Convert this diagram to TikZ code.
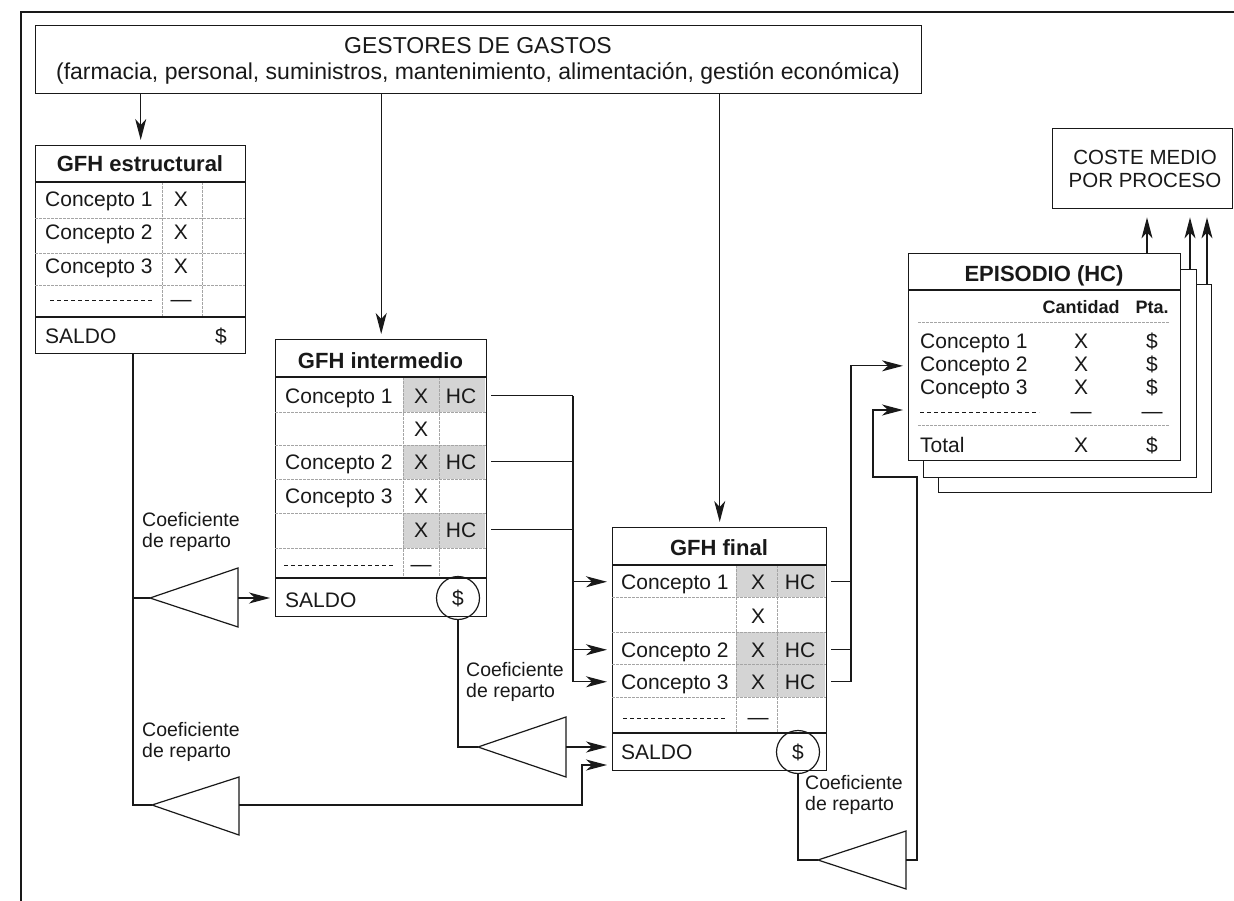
\documentclass[tikz,border=0pt]{standalone}
\usepackage{fontspec}
\setmainfont{Liberation Sans}
\usetikzlibrary{arrows.meta}
\definecolor{ink}{RGB}{25,25,25}
\definecolor{cellshade}{RGB}{212,212,212}
\definecolor{rulegray}{RGB}{165,165,165}
\begin{document}
\begin{tikzpicture}[x=1pt,y=-1pt,
  frameline/.style={draw=ink,line width=2pt},
  tblbox/.style={draw=ink,line width=1.4pt,fill=white,rectangle,inner sep=0pt,anchor=north west},
  solidrule/.style={draw=ink,line width=1.3pt},
  thinrule/.style={draw=rulegray,line width=0.8pt,dash pattern=on 3pt off 1pt},
  conn/.style={draw=ink,line width=1.3pt},
  arrw/.style={conn,-{Stealth[length=21pt,width=11pt,inset=6pt]},shorten >=5pt},
  toptxt/.style={font=\fontsize{23}{27}\selectfont,text=ink,inner sep=0pt},
  txt/.style={font=\fontsize{21}{25}\selectfont,text=ink,inner sep=0pt},
  smalltxt/.style={font=\fontsize{20.5}{24}\selectfont,text=ink,inner sep=0pt},
  hdr/.style={font=\fontsize{22}{26}\selectfont\bfseries,text=ink,inner sep=0pt},
  colhdr/.style={font=\fontsize{18}{20}\selectfont\bfseries,text=ink,inner sep=0pt},
  coeftxt/.style={font=\fontsize{19.5}{21}\selectfont,text=ink,inner sep=0pt,align=left,anchor=base west},
  tribox/.style={draw=ink,line width=1.2pt,fill=white},
  dashrow/.style={draw=ink,line width=1pt,dash pattern=on 4pt off 3pt},
  dollarcirc/.style={circle,draw=ink,line width=1.2pt,minimum size=43pt,inner sep=0pt,font=\fontsize{21}{25}\selectfont,text=ink}
]
\useasboundingbox (0,0) rectangle (1234,901);
\fill[white] (0,0) rectangle (1234,901);

% page frame
\draw[frameline] (1234,12) -- (21,12) -- (21,901);

% ---------- GESTORES DE GASTOS ----------
\node[tblbox,minimum width=886pt,minimum height=68pt] (gest) at (35,25) {};
\node[toptxt,anchor=base] (gest-t1) at (478,54) {GESTORES DE GASTOS};
\node[toptxt,anchor=base] (gest-t2) at (478,80) {(farmacia, personal, suministros, mantenimiento, alimentación, gestión económica)};

% ---------- GFH estructural ----------
\node[tblbox,minimum width=210pt,minimum height=208pt] (est) at (35,145) {};
\foreach \y in {218,253,285} \draw[thinrule] (35,\y) -- (245,\y);
\foreach \x in {162,202} \draw[thinrule] (\x,182) -- (\x,317);
\draw[solidrule] (35,182) -- (245,182);
\draw[solidrule] (35,317) -- (245,317);
\node[hdr,anchor=base] (est-h) at (140,172) {GFH estructural};
\node[txt,anchor=base west] (est-c1) at (45,207) {Concepto 1};
\node[txt,anchor=base] (est-x1) at (181,207) {X};
\node[txt,anchor=base west] (est-c2) at (45,240) {Concepto 2};
\node[txt,anchor=base] (est-x2) at (181,240) {X};
\node[txt,anchor=base west] (est-c3) at (45,274) {Concepto 3};
\node[txt,anchor=base] (est-x3) at (181,274) {X};
\draw[dashrow] (50,301) -- (153,301);
\node[txt,anchor=base] (est-d) at (181,307) {—};
\node[txt,anchor=base west] (est-s) at (45,343) {SALDO};
\node[txt,anchor=base] (est-sd) at (221,343) {\$};

% ---------- GFH intermedio ----------
\node[tblbox,minimum width=211pt,minimum height=277pt] (inter) at (275,339) {};
\fill[cellshade] (403,377) rectangle (485.3,412);
\fill[cellshade] (403,445) rectangle (485.3,479);
\fill[cellshade] (403,513) rectangle (485.3,548);
\foreach \y in {412,445,479,513,548} \draw[thinrule] (275,\y) -- (486,\y);
\foreach \x in {403,439} \draw[thinrule] (\x,377) -- (\x,578);
\draw[solidrule] (275,377) -- (486,377);
\draw[solidrule] (275,578) -- (486,578);
\node[hdr,anchor=base] (inter-h) at (380.5,368) {GFH intermedio};
\node[txt,anchor=base west] (i-c1) at (285,403) {Concepto 1};
\node[txt,anchor=base] (i-x1) at (421,403) {X};
\node[txt,anchor=base] (i-hc1) at (461,403) {HC};
\node[txt,anchor=base] (i-x2) at (421,436) {X};
\node[txt,anchor=base west] (i-c3) at (285,469) {Concepto 2};
\node[txt,anchor=base] (i-x3) at (421,469) {X};
\node[txt,anchor=base] (i-hc3) at (461,469) {HC};
\node[txt,anchor=base west] (i-c4) at (285,503) {Concepto 3};
\node[txt,anchor=base] (i-x4) at (421,503) {X};
\node[txt,anchor=base] (i-x5) at (421,537) {X};
\node[txt,anchor=base] (i-hc5) at (461,537) {HC};
\draw[dashrow] (284,565) -- (395,565);
\node[txt,anchor=base] (i-d) at (421,571) {—};
\node[txt,anchor=base west] (i-s) at (285,607) {SALDO};
\node[dollarcirc] (icirc) at (458,598) {\$};

% ---------- GFH final ----------
\node[tblbox,minimum width=214pt,minimum height=243pt] (final) at (612,527) {};
\fill[cellshade] (736,565) rectangle (825.3,597);
\fill[cellshade] (736,632) rectangle (825.3,697);
\foreach \y in {597,632,664,697} \draw[thinrule] (612,\y) -- (826,\y);
\foreach \x in {736,777} \draw[thinrule] (\x,565) -- (\x,733);
\draw[solidrule] (612,565) -- (826,565);
\draw[solidrule] (612,733) -- (826,733);
\node[hdr,anchor=base] (final-h) at (719,555) {GFH final};
\node[txt,anchor=base west] (f-c1) at (621,589) {Concepto 1};
\node[txt,anchor=base] (f-x1) at (758,589) {X};
\node[txt,anchor=base] (f-hc1) at (800,589) {HC};
\node[txt,anchor=base] (f-x2) at (758,623) {X};
\node[txt,anchor=base west] (f-c3) at (621,657) {Concepto 2};
\node[txt,anchor=base] (f-x3) at (758,657) {X};
\node[txt,anchor=base] (f-hc3) at (800,657) {HC};
\node[txt,anchor=base west] (f-c4) at (621,689) {Concepto 3};
\node[txt,anchor=base] (f-x4) at (758,689) {X};
\node[txt,anchor=base] (f-hc4) at (800,689) {HC};
\draw[dashrow] (623,718) -- (727,718);
\node[txt,anchor=base] (f-d) at (758,724) {—};
\node[txt,anchor=base west] (f-s) at (621,759) {SALDO};
\node[dollarcirc] (fcirc) at (798,752) {\$};

% ---------- EPISODIO (HC): stacked sheets ----------
\node[tblbox,minimum width=273pt,minimum height=208pt] (epi3) at (938,284) {};
\node[tblbox,minimum width=273pt,minimum height=208pt] (epi2) at (923,269) {};
\node[tblbox,minimum width=272pt,minimum height=207pt] (epi) at (908,253) {};
\draw[solidrule] (908,290) -- (1180,290);
\node[hdr,anchor=base] (epi-h) at (1044,282) {EPISODIO (HC)};
\node[colhdr,anchor=base] (epi-cant) at (1081,313) {Cantidad};
\node[colhdr,anchor=base] (epi-pta) at (1152,313) {Pta.};
\draw[thinrule] (918,322) -- (1170,322);
\node[txt,anchor=base west] (epi-c1) at (920,348) {Concepto 1};
\node[txt,anchor=base] (epi-x1) at (1081,348) {X};
\node[txt,anchor=base] (epi-p1) at (1152,348) {\$};
\node[txt,anchor=base west] (epi-c2) at (920,371) {Concepto 2};
\node[txt,anchor=base] (epi-x2) at (1081,371) {X};
\node[txt,anchor=base] (epi-p2) at (1152,371) {\$};
\node[txt,anchor=base west] (epi-c3) at (920,394) {Concepto 3};
\node[txt,anchor=base] (epi-x3) at (1081,394) {X};
\node[txt,anchor=base] (epi-p3) at (1152,394) {\$};
\draw[dashrow] (920,412) -- (1039,412);
\node[txt,anchor=base] (epi-d1) at (1081,418) {—};
\node[txt,anchor=base] (epi-d2) at (1152,418) {—};
\draw[thinrule] (918,425) -- (1170,425);
\node[txt,anchor=base west] (epi-t) at (920,452) {Total};
\node[txt,anchor=base] (epi-tx) at (1081,452) {X};
\node[txt,anchor=base] (epi-tp) at (1152,452) {\$};

% ---------- COSTE MEDIO POR PROCESO ----------
\node[tblbox,minimum width=180pt,minimum height=80pt] (coste) at (1052,128) {};
\node[smalltxt,anchor=base] (coste-t1) at (1145,165) {COSTE MEDIO};
\node[smalltxt,anchor=base] (coste-t2) at (1145,188) {POR PROCESO};

% ---------- distribution triangles ----------
\coordinate (t1tip) at (150,598);  \coordinate (t1back) at (238,598);
\coordinate (t2tip) at (152,805);  \coordinate (t2back) at (239,805);
\coordinate (t3tip) at (478,747);  \coordinate (t3back) at (566,747);
\coordinate (t4tip) at (818,860);  \coordinate (t4back) at (906,860);
\draw[tribox] (t1tip) -- (238,568) -- (238,627) -- cycle;
\draw[tribox] (t2tip) -- (239,777) -- (239,835) -- cycle;
\draw[tribox] (t3tip) -- (566,717) -- (566,777) -- cycle;
\draw[tribox] (t4tip) -- (906,831) -- (906,889) -- cycle;
\node[coeftxt] (coef1) at (142,547) {Coeficiente\\de reparto};
\node[coeftxt] (coef2) at (142,757) {Coeficiente\\de reparto};
\node[coeftxt] (coef3) at (466,697) {Coeficiente\\de reparto};
\node[coeftxt] (coef4) at (805,810) {Coeficiente\\de reparto};

% ---------- connectors ----------
% from the expense managers down to each GFH
\draw[arrw] (gest.south -| est.north) -- (est.north);
\draw[arrw] (gest.south -| inter.north) -- (inter.north);
\draw[arrw] (gest.south -| final.north) -- (final.north);

% structural balance shared out to intermediate and final GFH
\coordinate (estdrop) at ([xshift=98pt]est.south west);
\draw[conn] (estdrop) -- (estdrop |- t2tip) -- (t2tip);
\draw[conn] (estdrop |- t1tip) -- (t1tip);
\draw[arrw] (t1back) -- (t1back -| inter.west);
\coordinate (t2turn) at (582,805);
\coordinate (finsal2) at (612,765);
\draw[arrw] (t2back) -- (t2turn) |- (finsal2);

% intermediate balance shared out to final GFH
\draw[conn] (icirc.south) |- (t3tip);
\draw[arrw] (t3back) -- (final.west |- t3back);

% intermediate HC rows feeding the final GFH
\coordinate (iport) at ([xshift=4pt]inter.east);
\coordinate (ibus) at (573,0);
\draw[conn] (iport |- i-hc1) -- (ibus |- i-hc1);
\draw[conn] (iport |- i-hc3) -- (ibus |- i-hc3);
\draw[conn] (iport |- i-hc5) -- (ibus |- i-hc5);
\draw[conn] (ibus |- i-hc1) -- (ibus |- f-hc4);
\draw[arrw] (ibus |- f-hc1) -- (final.west |- f-hc1);
\draw[arrw] (ibus |- f-hc3) -- (final.west |- f-hc3);
\draw[arrw] (ibus |- f-hc4) -- (final.west |- f-hc4);

% final HC rows feeding the episode
\coordinate (fport) at ([xshift=4pt]final.east);
\coordinate (fbus) at (851,0);
\draw[conn] (fport |- f-hc1) -- (fbus |- f-hc1);
\draw[conn] (fport |- f-hc3) -- (fbus |- f-hc3);
\draw[conn] (fport |- f-hc4) -- (fbus |- f-hc4);
\draw[arrw] (fbus |- f-hc4) -- (fbus |- epi-c2) -- (epi.west |- epi-c2);

% final balance shared out to the episode
\draw[conn] (fcirc.south) |- (t4tip);
\coordinate (loopA) at (917,860);
\coordinate (loopB) at (917,477);
\coordinate (loopC) at (873,477);
\coordinate (loopD) at (873,410);
\coordinate (epiin2) at (epi.west |- 0,410);
\draw[arrw] (t4back) -- (loopA) -- (loopB) -- (loopC) -- (loopD) -- (epiin2);

% episodes to average cost per process
\coordinate (up1) at (1147,0);
\coordinate (up2) at (1190,0);
\coordinate (up3) at (1207,0);
\draw[arrw,shorten >=8pt] (up1 |- epi.north) -- (up1 |- coste.south);
\draw[arrw,shorten >=8pt] (up2 |- epi2.north) -- (up2 |- coste.south);
\draw[arrw,shorten >=8pt] (up3 |- epi3.north) -- (up3 |- coste.south);
\end{tikzpicture}
\end{document}
